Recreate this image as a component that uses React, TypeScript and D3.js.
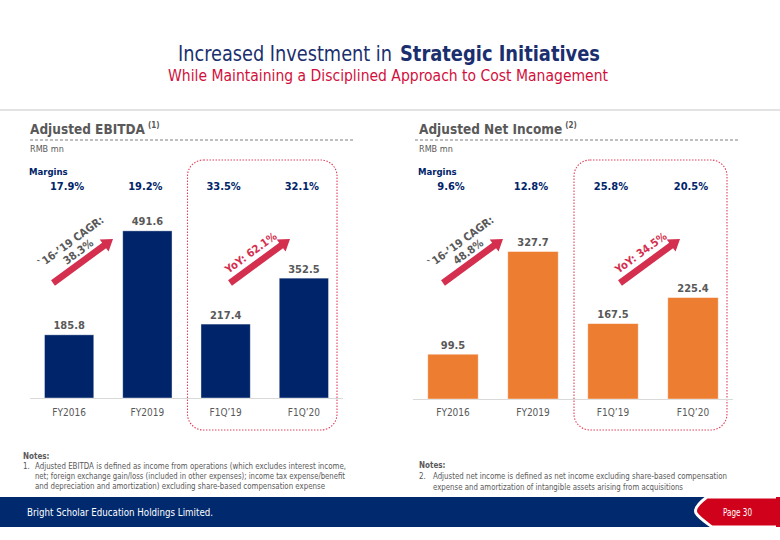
import React from "react";
import * as d3 from "d3";

const categories = ["FY2016", "FY2019", "F1Q’19", "F1Q’20"];
const ebitdaValues = [185.8, 491.6, 217.4, 352.5];
const ebitdaMargins = ["17.9%", "19.2%", "33.5%", "32.1%"];
const netIncomeValues = [99.5, 327.7, 167.5, 225.4];
const netIncomeMargins = ["9.6%", "12.8%", "25.8%", "20.5%"];
const ebitdaCagr = "38.3%";
const ebitdaYoY = "62.1%";
const netIncomeCagr = "48.8%";
const netIncomeYoY = "34.5%";

const FONT = "'DejaVu Sans Condensed', 'DejaVu Sans', sans-serif";
const NAVY = "#002469";
const TITLE_NAVY = "#1b2f6e";
const RED = "#d20f3c";
const ARROW = "#d42f4e";
const GRAY = "#595959";

function Arrow({ x1, y1, x2, y2 }: { x1: number; y1: number; x2: number; y2: number }) {
  const L = Math.hypot(x2 - x1, y2 - y1);
  const a = (Math.atan2(y2 - y1, x2 - x1) * 180) / Math.PI;
  const sh = 3.3, hh = 7.5, hl = 11;
  const pts = [
    [0, -sh], [L - hl, -sh], [L - hl, -hh], [L, 0], [L - hl, hh], [L - hl, sh], [0, sh],
  ].map((p) => p.join(",")).join(" ");
  return <polygon points={pts} fill={ARROW} transform={`translate(${x1},${y1}) rotate(${a})`} />;
}

function Panel({
  title, sup, values, margins, color, xRange, baseY, yMax, yTop, textX, dx, cagr, yoy, lineX,
}: any) {
  const x = d3.scaleBand<string>().domain(categories).range(xRange).paddingInner(0.37).paddingOuter(0.185);
  const y = d3.scaleLinear().domain([0, yMax]).range([baseY, yTop]);
  const step = x.step();
  const rectX = xRange[0] + 2 * step + 1;
  const rectW = 2 * step - 7;
  const ang = -36.3;
  const perp = [Math.sin((-ang * Math.PI) / 180), Math.cos((-ang * Math.PI) / 180)];
  const c1 = [71 + dx, 242];
  return (
    <g fontFamily={FONT}>
      <text x={textX} y={134} fontSize={13.5} fontWeight="bold" fill={GRAY}>
        {title}
        <tspan fontSize={8} dy={-6} dx={3}>{sup}</tspan>
      </text>
      <line x1={lineX[0]} x2={lineX[1]} y1={140} y2={140} stroke="#7f7f7f" strokeWidth={1} strokeDasharray="3,2" />
      <text x={textX} y={152} fontSize={9} fill={GRAY}>RMB mn</text>
      <text x={textX - 1} y={175} fontSize={9.5} fontWeight="bold" fill={NAVY}>Margins</text>
      {categories.map((c, i) => (
        <text key={"m" + c} x={(x(c) as number) + x.bandwidth() / 2 - 2} y={189.5} fontSize={11} fontWeight="bold" fill={NAVY} textAnchor="middle">
          {margins[i]}
        </text>
      ))}
      <rect x={rectX} y={160} width={rectW} height={270} rx={16} ry={16} fill="none" stroke="#e0405c" strokeWidth={1.1} strokeDasharray="1.5,1.5" />
      <line x1={xRange[0]} x2={xRange[1]} y1={baseY + 0.5} y2={baseY + 0.5} stroke="#d9d9d9" strokeWidth={1} />
      {categories.map((c, i) => (
        <g key={c}>
          <rect x={x(c)} y={y(values[i])} width={x.bandwidth()} height={baseY - y(values[i])} fill={color} stroke="#ffffff" strokeOpacity={0.5} strokeWidth={0.8} />
          <text x={(x(c) as number) + x.bandwidth() / 2} y={y(values[i]) - 5.5} fontSize={11} fontWeight="bold" fill={GRAY} textAnchor="middle">
            {values[i].toFixed(1)}
          </text>
          <text x={(x(c) as number) + x.bandwidth() / 2} y={416} fontSize={10} fill={GRAY} textAnchor="middle">
            {c}
          </text>
        </g>
      ))}
      <Arrow x1={53 + dx} y1={283} x2={113 + dx} y2={239} />
      <Arrow x1={230 + dx} y1={283} x2={290 + dx} y2={239} />
      <g fontSize={11} fontWeight="bold" fill={GRAY} textAnchor="middle" dominantBaseline="central">
        <text transform={`translate(${c1[0]},${c1[1]}) rotate(${ang})`}>`16-’19 CAGR:</text>
        <text transform={`translate(${c1[0] + perp[0] * 12.5},${c1[1] + perp[1] * 12.5}) rotate(${ang})`}>{cagr}</text>
      </g>
      <text transform={`translate(${251 + dx},${253}) rotate(${ang})`} fontSize={11} fontWeight="bold" fill={ARROW} textAnchor="middle" dominantBaseline="central">
        YoY: {yoy}
      </text>
    </g>
  );
}

export default function App() {
  return (
    <svg width={780} height={540} style={{ position: "absolute", left: 0, top: 0, background: "#fff" }}>
      <rect x={0} y={0} width={780} height={540} fill="#fff" />
      <g fontFamily={FONT}>
        <text x={178} y={61} fontSize={21} fill={TITLE_NAVY} textLength={214} lengthAdjust="spacingAndGlyphs">Increased Investment in</text>
        <text x={400} y={61} fontSize={21} fontWeight="bold" fill={TITLE_NAVY} textLength={200} lengthAdjust="spacingAndGlyphs">Strategic Initiatives</text>
        <text x={168} y={81} fontSize={16.5} fill={RED} textLength={440} lengthAdjust="spacingAndGlyphs">While Maintaining a Disciplined Approach to Cost Management</text>
      </g>
      <rect x={0} y={109} width={780} height={2} fill="#e3e3e3" />
      <Panel title="Adjusted EBITDA" sup="(1)" values={ebitdaValues} margins={ebitdaMargins} color={NAVY}
        xRange={[30, 343]} baseY={398} yMax={600} yTop={194} textX={30} dx={0} cagr={ebitdaCagr} yoy={ebitdaYoY} lineX={[30, 355]} />
      <Panel title="Adjusted Net Income" sup="(2)" values={netIncomeValues} margins={netIncomeMargins} color="#ed7d31"
        xRange={[413, 733]} baseY={399} yMax={400} yTop={219} textX={419} dx={390} cagr={netIncomeCagr} yoy={netIncomeYoY} lineX={[415, 740]} />
      <g fontFamily={FONT} fontSize={8} fill={GRAY}>
        <text x={23} y={459} fontWeight="bold">Notes:</text>
        <text x={23} y={469}>1.</text>
        <text x={35} y={469} textLength={311} lengthAdjust="spacingAndGlyphs">Adjusted EBITDA is defined as income from operations (which excludes interest income,</text>
        <text x={35} y={479} textLength={310} lengthAdjust="spacingAndGlyphs">net; foreign exchange gain/loss (included in other expenses); income tax expense/benefit</text>
        <text x={35} y={489} textLength={290} lengthAdjust="spacingAndGlyphs">and depreciation and amortization) excluding share-based compensation expense</text>
        <text x={419} y={468} fontWeight="bold">Notes:</text>
        <text x={419} y={479}>2.</text>
        <text x={433} y={479} textLength={294} lengthAdjust="spacingAndGlyphs">Adjusted net income is defined as net income excluding share-based compensation</text>
        <text x={433} y={490} textLength={250} lengthAdjust="spacingAndGlyphs">expense and amortization of intangible assets arising from acquisitions</text>
      </g>
      <rect x={0} y={497} width={780} height={30} fill="#00296e" />
      <path d="M707,497 C699,503 694,509 696,513 C699,518 707,523 712,527 L780,527 L780,497 Z" fill="#d0021b" stroke="#ffffff" strokeWidth={3} />
      <rect x={776} y={497} width={4} height={30} fill="#d0021b" />
      <g fontFamily={FONT} fill="#ffffff">
        <text x={27} y={516} fontSize={10} textLength={186} lengthAdjust="spacingAndGlyphs">Bright Scholar Education Holdings Limited.</text>
        <text x={723} y={516} fontSize={10} textLength={29} lengthAdjust="spacingAndGlyphs">Page 30</text>
      </g>
    </svg>
  );
}
